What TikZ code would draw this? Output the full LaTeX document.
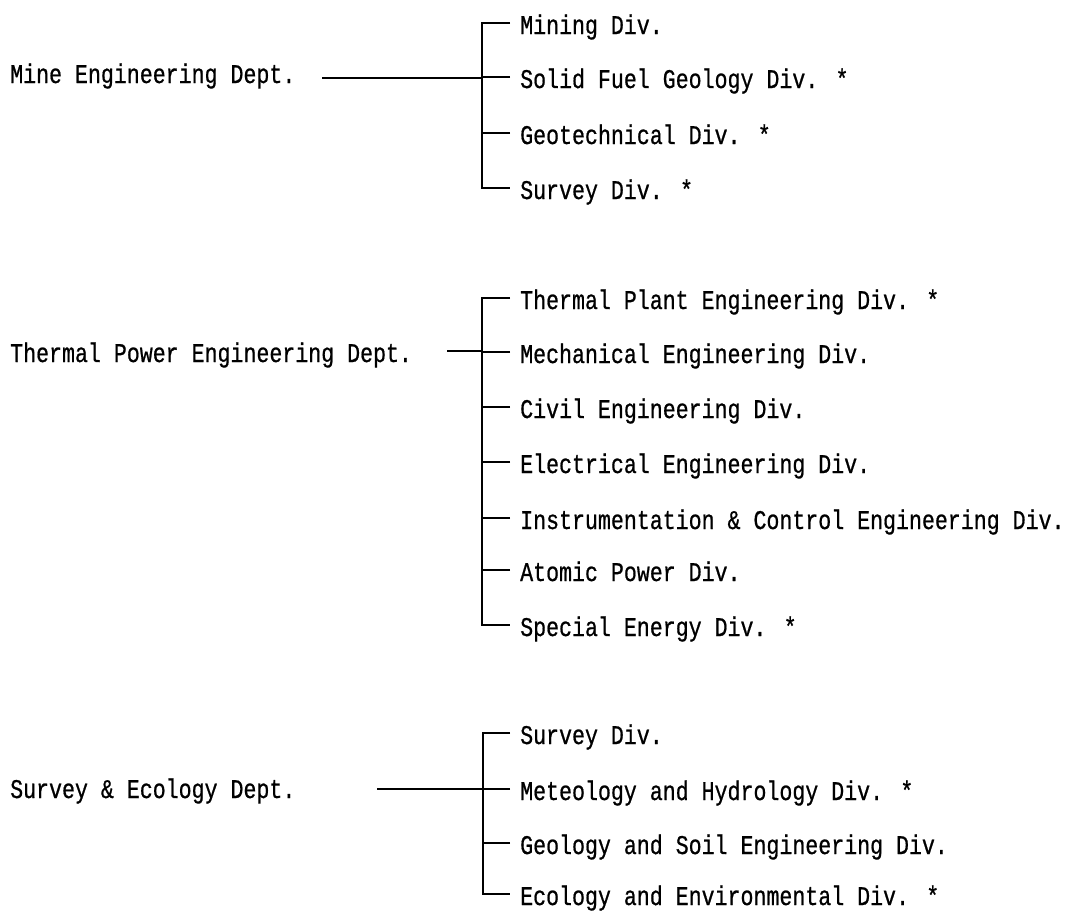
\documentclass[tikz,border=0pt]{standalone}
\usepackage{fontspec}
\usepackage{graphicx}
\newfontfamily\chartfont[FakeBold=0.8]{Liberation Mono}
\newcommand{\cnd}[1]{\scalebox{0.8}[1]{#1}}
\tikzset{
  lbl/.style={anchor=base west, inner sep=0pt, font=\chartfont\fontsize{27}{30}\selectfont},
  dept/.style={lbl},
  divn/.style={lbl},
  conn/.style={line width=1.6pt, black},
}
\begin{document}
\begin{tikzpicture}[x=1pt,y=-1pt]
\useasboundingbox (0,0) rectangle (1081,911);

% ---------- Group 1 ----------
\node[dept] (mine) at (10,83) {\cnd{Mine Engineering Dept.}};
\coordinate (mineS) at (322,78);
\coordinate (mineJ) at (482,78);
\node[divn] (g1a) at (520,34) {\cnd{Mining Div.}};
\node[divn] (g1b) at (520,88) {\cnd{Solid Fuel Geology Div. *}};
\node[divn] (g1c) at (520,144) {\cnd{Geotechnical Div. *}};
\node[divn] (g1d) at (520,199) {\cnd{Survey Div. *}};
\foreach \n in {g1a,g1b,g1c,g1d}{\coordinate (\n T) at ([shift={(-10pt,11pt)}]\n.base west);}
\draw[conn] (g1aT) -| (mineJ) |- (g1dT);
\draw[conn] (g1bT) -- (g1bT -| mineJ);
\draw[conn] (g1cT) -- (g1cT -| mineJ);
\draw[conn] (mineS) -- (mineJ);

% ---------- Group 2 ----------
\node[dept] (thermal) at (10,362) {\cnd{Thermal Power Engineering Dept.}};
\coordinate (thS) at (447,351);
\coordinate (thJ) at (482,351);
\node[divn] (g2a) at (520,309) {\cnd{Thermal Plant Engineering Div. *}};
\node[divn] (g2b) at (520,363) {\cnd{Mechanical Engineering Div.}};
\node[divn] (g2c) at (520,418) {\cnd{Civil Engineering Div.}};
\node[divn] (g2d) at (520,473) {\cnd{Electrical Engineering Div.}};
\node[divn] (g2e) at (520,529) {\cnd{Instrumentation \& Control Engineering Div.}};
\node[divn] (g2f) at (520,581) {\cnd{Atomic Power Div.}};
\node[divn] (g2g) at (520,636) {\cnd{Special Energy Div. *}};
\foreach \n in {g2a,g2b,g2c,g2d,g2e,g2f,g2g}{\coordinate (\n T) at ([shift={(-10pt,11pt)}]\n.base west);}
\draw[conn] (g2aT) -| (thJ) |- (g2gT);
\foreach \n in {g2b,g2c,g2d,g2e,g2f}{\draw[conn] (\n T) -- (\n T -| thJ);}
\draw[conn] (thS) -- (thJ);

% ---------- Group 3 ----------
\node[dept] (survey) at (10,798) {\cnd{Survey \& Ecology Dept.}};
\coordinate (suS) at (377,789);
\coordinate (suJ) at (483,789);
\node[divn] (g3a) at (520,744) {\cnd{Survey Div.}};
\node[divn] (g3b) at (520,800) {\cnd{Meteology and Hydrology Div. *}};
\node[divn] (g3c) at (520,854) {\cnd{Geology and Soil Engineering Div.}};
\node[divn] (g3d) at (520,905) {\cnd{Ecology and Environmental Div. *}};
\foreach \n in {g3a,g3b,g3c,g3d}{\coordinate (\n T) at ([shift={(-10pt,11pt)}]\n.base west);}
\draw[conn] (g3aT) -| (suJ) |- (g3dT);
\draw[conn] (g3bT) -- (g3bT -| suJ);
\draw[conn] (g3cT) -- (g3cT -| suJ);
\draw[conn] (suS) -- (suJ);
\end{tikzpicture}
\end{document}
